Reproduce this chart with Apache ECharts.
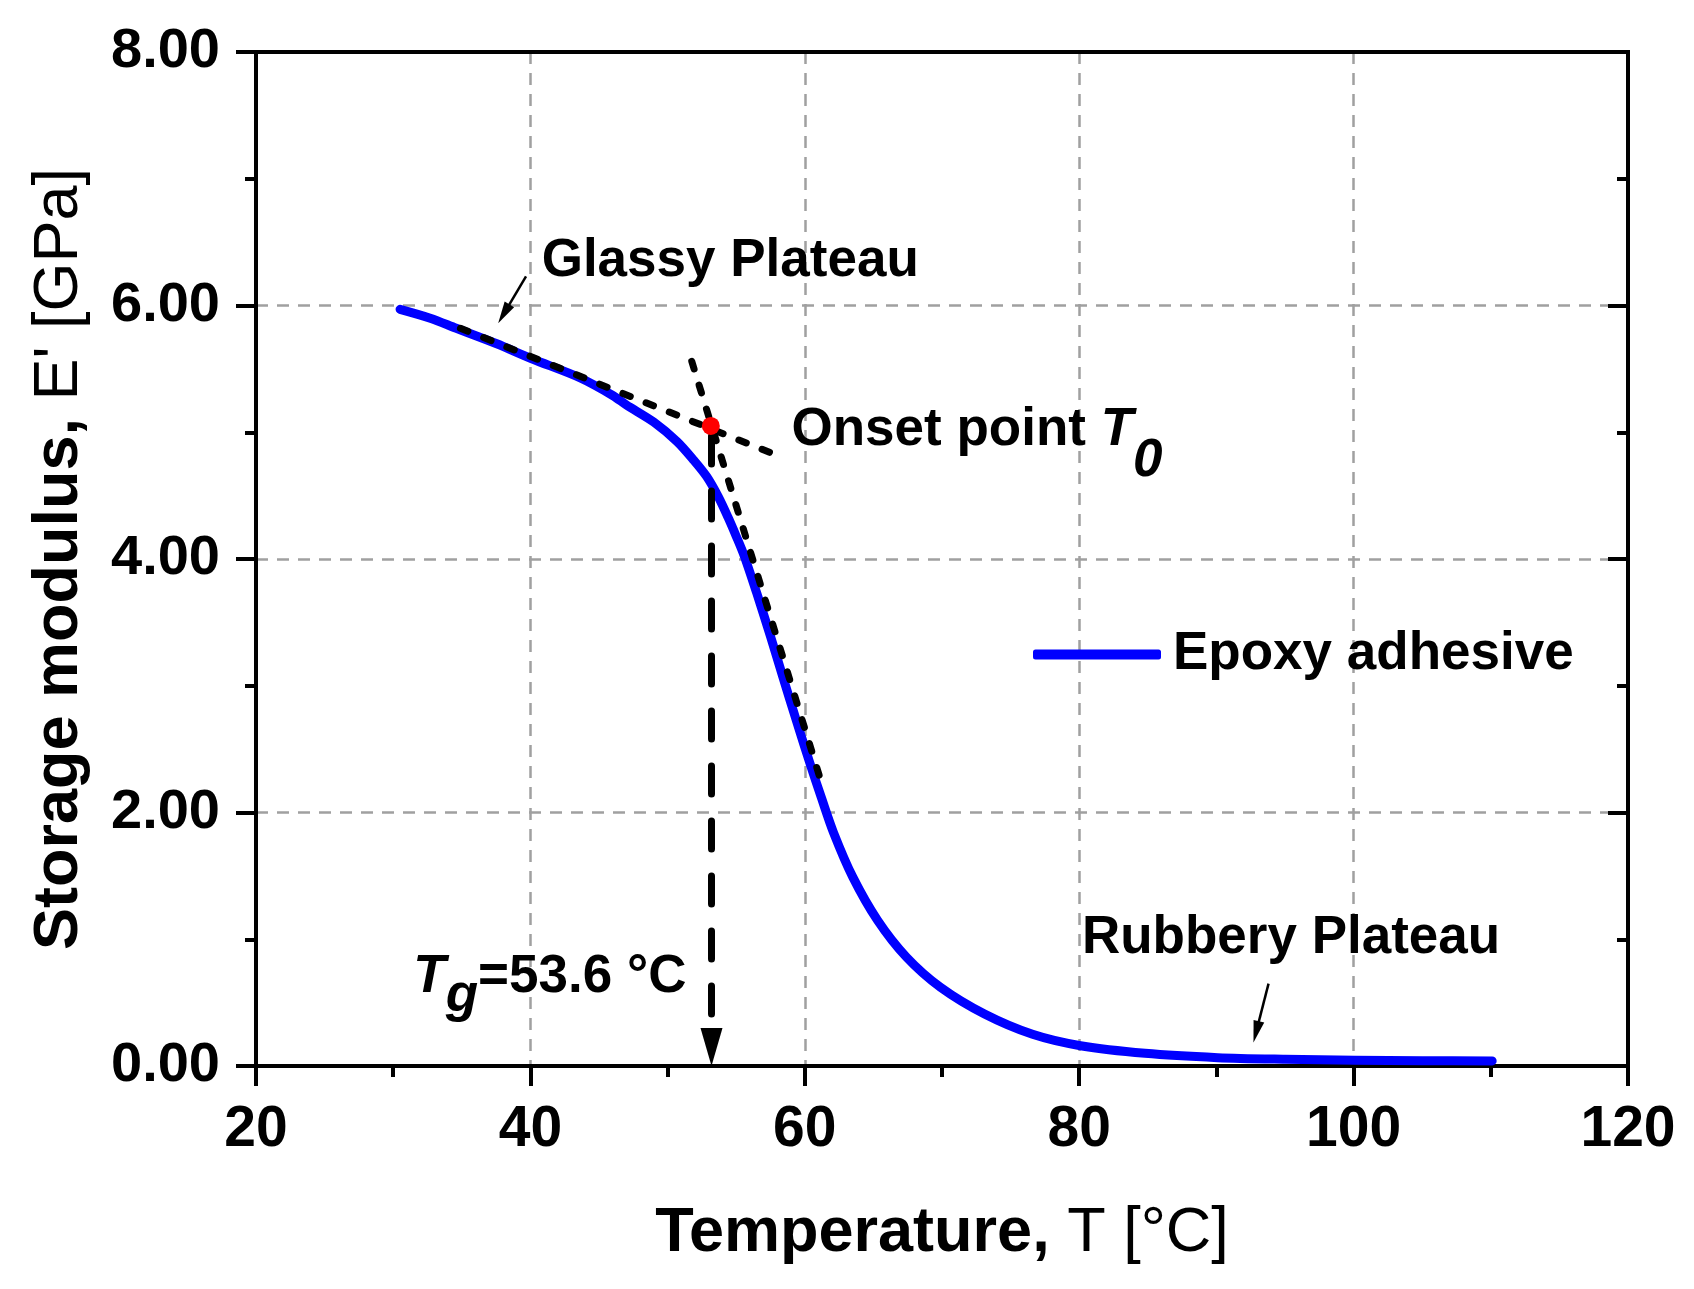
<!DOCTYPE html>
<html>
<head>
<meta charset="utf-8">
<script src="https://cdn.jsdelivr.net/npm/echarts@6/dist/echarts.min.js"></script>
<style>
  html, body { margin: 0; padding: 0; background: #ffffff; }
  #chart { width: 1694px; height: 1289px; }
</style>
</head>
<body>
<div id="chart"></div>
<script>
// ---- data ----
const tempC = [30.5, 32.7, 34.6, 37.5, 40.1, 43.6, 46.0, 47.0, 49.0, 50.7, 51.9, 52.85, 53.7, 54.4, 55.0, 55.6, 56.5, 57.5, 58.4, 59.4, 60.4, 61.2, 62.1, 63.5, 65.3, 67.4, 69.9, 73.1, 76.6, 80.1, 84.8, 90.1, 95.0, 100.1, 105.0, 110.1];
const storageGPa = [5.97, 5.90, 5.82, 5.70, 5.58, 5.43, 5.29, 5.215, 5.08, 4.925, 4.78, 4.65, 4.49, 4.33, 4.18, 4.02, 3.73, 3.39, 3.07, 2.72, 2.38, 2.12, 1.84, 1.49, 1.15, 0.86, 0.62, 0.41, 0.25, 0.16, 0.10, 0.066, 0.053, 0.045, 0.042, 0.040];
const seriesName = 'Epoxy adhesive';

const tangentGlassy = [[34.9, 5.82], [57.7, 4.83]];
const tangentTransition = [[51.76, 5.56], [61.2, 2.24]];
const onsetPoint = [53.15, 5.05];
// arrow shafts; each ends where the centre of its arrowhead sits
const tgArrow = [[53.2, 4.97], [53.2, 0.15]];
const glassyArrow = [[39.68, 6.23], [38.06, 5.934]];
const rubberyArrow = [[93.8, 0.65], [92.9, 0.269]];

const glassyLabelAt = [40.82, 6.35];
const rubberyLabelAt = [80.2, 1.007];
const onsetLabelAt = [59.03, 5.006];
const tgLabelAt = [31.47, 0.686];

const xMin = 20, xMax = 120, xStep = 20;
const yMin = 0, yMax = 8, yStep = 2;

// ---- chart ----
const FONT = '"Liberation Sans", Arial, sans-serif';
const chart = echarts.init(document.getElementById('chart'), null, { renderer: 'canvas' });

// narrow arrowheads drawn inside a square box (lines series symbols are square)
const bigHead = 'path://M0,0 M38,38 M19,0 L30,38 L8,38 Z';
const smallHead = 'path://M0,0 M22,22 M11,0 L16.5,22 L5.5,22 Z';

const curveData = tempC.map((t, i) => [t, storageGPa[i]]);
const axisLine = { show: true, onZero: false, lineStyle: { color: '#000', width: 4, cap: 'square' } };
const gridLine = { show: true, lineStyle: { color: '#a0a0a0', width: 2.5, type: [12, 9] } };
const annFont = { fontFamily: FONT, fontSize: 53, color: '#000000', fontWeight: 'bold', textBorderWidth: 0, opacity: 1 };
const tangentStyle = { color: '#000', width: 7, type: [8, 17], cap: 'round', opacity: 1 };

const option = {
  animation: false,
  backgroundColor: '#ffffff',
  textStyle: { fontFamily: FONT },
  grid: { left: 256, right: 66, top: 52, bottom: 223, containLabel: false, outerBoundsMode: 'none' },
  legend: {
    data: [seriesName],
    left: 1033, top: 628, padding: 0,
    itemWidth: 128, itemHeight: 10, icon: 'roundRect',
    itemStyle: { color: '#0000ff' },
    textStyle: { fontFamily: FONT, fontSize: 53, fontWeight: 'bold', color: '#000', padding: [0, 0, 0, 7] },
    selectedMode: false
  },
  xAxis: [{
    type: 'value', position: 'bottom', min: xMin, max: xMax, interval: xStep,
    axisLine: axisLine,
    axisTick: { show: true, inside: false, length: 20, lineStyle: { color: '#000', width: 4 } },
    minorTick: { show: true, splitNumber: 2, length: 11, lineStyle: { color: '#000', width: 4 } },
    axisLabel: { show: true, margin: 36, fontSize: 57, fontWeight: 'bold', color: '#000', fontFamily: FONT },
    splitLine: gridLine,
    name: '{b|Temperature, }{n|T [°C]}',
    nameLocation: 'middle', nameGap: 136,
    nameTextStyle: {
      rich: {
        b: { fontFamily: FONT, fontSize: 63, fontWeight: 'bold', color: '#000' },
        n: { fontFamily: FONT, fontSize: 63, fontWeight: 'normal', color: '#000' }
      }
    }
  }, {
    type: 'value', position: 'top', min: xMin, max: xMax, interval: xStep,
    axisLine: axisLine, axisTick: { show: false }, axisLabel: { show: false }, splitLine: { show: false }
  }],
  yAxis: [{
    type: 'value', position: 'left', min: yMin, max: yMax, interval: yStep,
    axisLine: axisLine,
    axisTick: { show: true, inside: false, length: 20, lineStyle: { color: '#000', width: 4 } },
    minorTick: { show: true, splitNumber: 2, length: 11, lineStyle: { color: '#000', width: 4 } },
    axisLabel: { show: true, margin: 36, fontSize: 56, fontWeight: 'bold', color: '#000', fontFamily: FONT,
      formatter: v => v.toFixed(2) },
    splitLine: gridLine,
    name: '{b|Storage modulus, }{n|E\' [GPa]}',
    nameLocation: 'middle', nameGap: 165, nameRotate: 90,
    nameTextStyle: {
      rich: {
        b: { fontFamily: FONT, fontSize: 63, fontWeight: 'bold', color: '#000' },
        n: { fontFamily: FONT, fontSize: 63, fontWeight: 'normal', color: '#000' }
      }
    }
  }, {
    type: 'value', position: 'right', min: yMin, max: yMax, interval: yStep,
    axisLine: axisLine,
    axisTick: { show: true, inside: true, length: 20, lineStyle: { color: '#000', width: 4 } },
    minorTick: { show: true, splitNumber: 2, length: 11, lineStyle: { color: '#000', width: 4 } },
    axisLabel: { show: false }, splitLine: { show: false }
  }],
  series: [
    {
      name: seriesName, type: 'line', data: curveData,
      smooth: 0.3, showSymbol: false, symbol: 'none', z: 2,
      lineStyle: { color: '#0000ff', width: 9, cap: 'round', join: 'round' },
      itemStyle: { color: '#0000ff' },
      emphasis: { disabled: true }
    },
    {
      name: 'tangent-glassy', type: 'line', data: tangentGlassy, showSymbol: false, symbol: 'none', z: 3,
      lineStyle: tangentStyle, emphasis: { disabled: true }
    },
    {
      name: 'tangent-transition', type: 'line', data: tangentTransition, showSymbol: false, symbol: 'none', z: 3,
      lineStyle: tangentStyle, emphasis: { disabled: true }
    },
    {
      name: 'tg-arrow', type: 'lines', coordinateSystem: 'cartesian2d', z: 3,
      symbol: ['none', bigHead], symbolSize: 38,
      lineStyle: { color: '#000', width: 7, type: [28, 27], cap: 'round', opacity: 1 },
      itemStyle: { color: '#000', opacity: 1 },
      data: [{ coords: tgArrow }], silent: true
    },
    {
      name: 'note-arrows', type: 'lines', coordinateSystem: 'cartesian2d', z: 3,
      symbol: ['none', smallHead], symbolSize: 22,
      lineStyle: { color: '#000', width: 2.5, type: 'solid', opacity: 1 },
      itemStyle: { color: '#000', opacity: 1 },
      data: [{ coords: glassyArrow }, { coords: rubberyArrow }], silent: true
    },
    {
      name: 'onset', type: 'scatter', data: [onsetPoint], symbol: 'circle', symbolSize: 18, z: 5,
      itemStyle: { color: '#ff0000', opacity: 1 }, silent: true
    },
    {
      name: 'notes', type: 'scatter', symbolSize: 0, z: 6, silent: true,
      itemStyle: { opacity: 1, color: '#000' },
      label: { show: true, position: 'right', distance: 0, ...annFont },
      data: [
        { value: glassyLabelAt, label: { formatter: 'Glassy Plateau', ...annFont } },
        { value: rubberyLabelAt, label: { formatter: 'Rubbery Plateau', ...annFont } },
        { value: onsetLabelAt, label: {
            ...annFont,
            formatter: '{b|Onset point }{i|T}{s|0}',
            rich: {
              b: { ...annFont, lineHeight: 56, verticalAlign: 'top' },
              i: { ...annFont, fontStyle: 'italic', lineHeight: 56, verticalAlign: 'top' },
              s: { ...annFont, fontStyle: 'italic', lineHeight: 56, verticalAlign: 'top', padding: [31, 0, 0, 0] }
            } } },
        { value: tgLabelAt, label: {
            ...annFont,
            formatter: '{i|T}{s|g}{b|=53.6 °C}',
            rich: {
              b: { ...annFont, lineHeight: 56, verticalAlign: 'top' },
              i: { ...annFont, fontStyle: 'italic', lineHeight: 56, verticalAlign: 'top' },
              s: { ...annFont, fontStyle: 'italic', lineHeight: 56, verticalAlign: 'top', padding: [19, 0, 0, 0] }
            } } }
      ]
    }
  ]
};
chart.setOption(option);
</script>
</body>
</html>
